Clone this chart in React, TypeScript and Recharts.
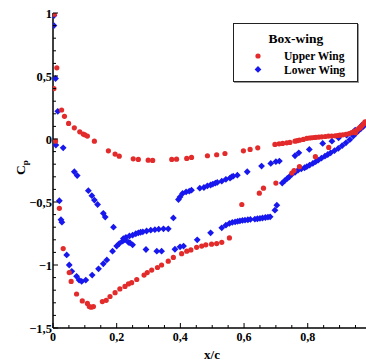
import { ScatterChart, Scatter, XAxis, YAxis, Legend } from "recharts";

// Cp distributions, [x/c, Cp]
const upperWingTop: [number, number][] = [
  [0.004, 0.99], [0.012, 0.565], [0.003, 0.4], [0.027, 0.23], [0.036, 0.18], [0.049, 0.124],
  [0.067, 0.089], [0.084, 0.057], [0.095, 0.039], [0.1, 0.033], [0.108, 0.023], [0.13, -0.017],
  [0.174, -0.094], [0.195, -0.12], [0.208, -0.136], [0.252, -0.157], [0.268, -0.162], [0.299, -0.168],
  [0.313, -0.17], [0.373, -0.162], [0.388, -0.16], [0.42, -0.154], [0.435, -0.146], [0.485, -0.133],
  [0.514, -0.125], [0.54, -0.115], [0.598, -0.094], [0.619, -0.083], [0.643, -0.07], [0.697, -0.043],
  [0.71, -0.038], [0.721, -0.035], [0.734, -0.03], [0.744, -0.027], [0.76, -0.017], [0.767, -0.013],
  [0.774, -0.009], [0.786, -0.003], [0.797, 0.005], [0.805, 0.008], [0.812, 0.01], [0.82, 0.012],
  [0.826, 0.013], [0.835, 0.015], [0.844, 0.017], [0.855, 0.02], [0.865, 0.023], [0.875, 0.024],
  [0.886, 0.025], [0.894, 0.027], [0.901, 0.03], [0.91, 0.033], [0.92, 0.037], [0.93, 0.043],
  [0.938, 0.05], [0.947, 0.06], [0.954, 0.07], [0.96, 0.082], [0.964, 0.092], [0.97, 0.105],
  [0.975, 0.118], [0.98, 0.137],
];

const upperWingBottom: [number, number][] = [
  [0.008, -0.017], [0.02, -0.55], [0.032, -0.87], [0.051, -1.06], [0.057, -1.13], [0.074, -1.23],
  [0.092, -1.285], [0.108, -1.305], [0.114, -1.33], [0.12, -1.335], [0.127, -1.33], [0.155, -1.29],
  [0.167, -1.28], [0.179, -1.25], [0.195, -1.22], [0.21, -1.19], [0.226, -1.17], [0.237, -1.15],
  [0.247, -1.14], [0.263, -1.115], [0.286, -1.08], [0.296, -1.06], [0.31, -1.04], [0.328, -1.02],
  [0.341, -1.0], [0.362, -0.97], [0.378, -0.94], [0.404, -0.91], [0.42, -0.89], [0.433, -0.88],
  [0.451, -0.86], [0.467, -0.85], [0.48, -0.84], [0.498, -0.835], [0.514, -0.83], [0.53, -0.82],
  [0.554, -0.785], [0.593, -0.52], [0.648, -0.43], [0.661, -0.39], [0.7, -0.35], [0.75, -0.27],
  [0.757, -0.25], [0.774, -0.22], [0.824, -0.14], [0.866, -0.067], [0.95, 0.05], [0.965, 0.09],
  [0.975, 0.12],
];

const lowerWingTop: [number, number][] = [
  [0.003, 0.98], [0.003, 0.9], [0.008, 0.48], [0.015, 0.22], [0.009, -0.048], [0.032, -0.07],
  [0.067, -0.26], [0.076, -0.29], [0.111, -0.41], [0.122, -0.45], [0.13, -0.485], [0.14, -0.52],
  [0.158, -0.59], [0.164, -0.62], [0.19, -0.7], [0.221, -0.79], [0.229, -0.78], [0.24, -0.77],
  [0.25, -0.763], [0.26, -0.752], [0.268, -0.745], [0.275, -0.74], [0.282, -0.737], [0.294, -0.73],
  [0.307, -0.724], [0.32, -0.72], [0.332, -0.716], [0.347, -0.713], [0.362, -0.713], [0.378, -0.626],
  [0.394, -0.48], [0.399, -0.46], [0.407, -0.432], [0.418, -0.42], [0.428, -0.414], [0.435, -0.406],
  [0.461, -0.39], [0.474, -0.385], [0.485, -0.372], [0.495, -0.365], [0.502, -0.358], [0.51, -0.35],
  [0.516, -0.345], [0.53, -0.335], [0.543, -0.32], [0.556, -0.31], [0.561, -0.3], [0.566, -0.295],
  [0.579, -0.287], [0.61, -0.26], [0.655, -0.215], [0.684, -0.194], [0.7, -0.18], [0.711, -0.175],
  [0.76, -0.133], [0.772, -0.11], [0.805, -0.083], [0.847, -0.035], [0.876, -0.017], [0.897, 0.01],
  [0.922, 0.03], [0.949, 0.071], [0.97, 0.11],
];

const lowerWingBottom: [number, number][] = [
  [0.02, -0.49], [0.025, -0.64], [0.028, -0.66], [0.043, -0.92], [0.051, -1.0], [0.059, -1.05],
  [0.074, -1.09], [0.082, -1.12], [0.09, -1.13], [0.103, -1.12], [0.123, -1.08], [0.143, -1.03],
  [0.158, -0.99], [0.169, -0.96], [0.187, -0.89], [0.2, -0.85], [0.208, -0.83], [0.219, -0.81],
  [0.226, -0.8], [0.237, -0.82], [0.242, -0.825], [0.25, -0.84], [0.292, -0.877], [0.326, -0.89],
  [0.341, -0.89], [0.383, -0.875], [0.399, -0.856], [0.41, -0.85], [0.453, -0.8], [0.495, -0.745],
  [0.53, -0.705], [0.543, -0.684], [0.554, -0.67], [0.563, -0.662], [0.572, -0.658], [0.58, -0.653],
  [0.587, -0.65], [0.595, -0.646], [0.603, -0.644], [0.612, -0.641], [0.62, -0.638], [0.634, -0.636],
  [0.642, -0.633], [0.65, -0.63], [0.658, -0.627], [0.667, -0.623], [0.675, -0.62], [0.682, -0.618],
  [0.697, -0.565], [0.703, -0.525], [0.72, -0.35], [0.728, -0.33], [0.736, -0.313], [0.742, -0.3],
  [0.75, -0.28], [0.76, -0.265], [0.77, -0.247], [0.78, -0.237], [0.79, -0.228], [0.797, -0.22],
  [0.806, -0.207], [0.816, -0.194], [0.825, -0.18], [0.833, -0.168], [0.843, -0.152], [0.854, -0.136],
  [0.863, -0.123], [0.872, -0.11], [0.884, -0.093], [0.896, -0.075], [0.908, -0.053], [0.92, -0.03],
  [0.932, -0.005], [0.943, 0.023], [0.951, 0.045], [0.959, 0.065], [0.967, 0.083], [0.975, 0.1],
];

const xTicks = [0, 0.05, 0.1, 0.15, 0.2, 0.25, 0.3, 0.35, 0.4, 0.45, 0.5, 0.55, 0.6, 0.65, 0.7, 0.75, 0.8, 0.85, 0.9, 0.95];
const yTicks = [-1.5, -1.4, -1.3, -1.2, -1.1, -1, -0.9, -0.8, -0.7, -0.6, -0.5, -0.4, -0.3, -0.2, -0.1, 0,
  0.1, 0.2, 0.3, 0.4, 0.5, 0.6, 0.7, 0.8, 0.9, 1];

const legendTitle = "Box-wing";
const UPPER = "Upper Wing";
const LOWER = "Lower Wing";

const RED = "#e32b2b";
const BLUE = "#1717ee";
const FONT = "'Liberation Serif', 'Times New Roman', serif";

const toPoints = (arr: [number, number][]) => arr.map(([x, y]) => ({ x, y }));
const upperData = [...toPoints(upperWingTop), ...toPoints(upperWingBottom)];
const lowerData = [...toPoints(lowerWingTop), ...toPoints(lowerWingBottom)];

const isMultiple = (v: number, step: number) => Math.abs(v / step - Math.round(v / step)) < 1e-6;
const fmt = (v: number) => String(Math.round(v * 10) / 10).replace(".", ",").replace("-", "\u2212");

const BottomTick = (props: any) => {
  const { x, y, payload } = props;
  const major = isMultiple(payload.value, 0.2);
  return (
    <g>
      <line x1={x} x2={x} y1={y} y2={y - (major ? 5 : 3)} stroke="#000" strokeWidth={1} />
      {major && (
        <text x={x} y={y + 13} textAnchor="middle" fontFamily={FONT} fontWeight="bold" fontSize={12} fill="#000">
          {fmt(payload.value)}
        </text>
      )}
    </g>
  );
};

const TopTick = (props: any) => {
  const { x, y, payload } = props;
  const major = isMultiple(payload.value, 0.2);
  return <line x1={x} x2={x} y1={y} y2={y + (major ? 5 : 3)} stroke="#000" strokeWidth={1} />;
};

const LeftTick = (props: any) => {
  const { x, y, payload } = props;
  const major = isMultiple(payload.value, 0.5);
  return (
    <g>
      <line x1={x} x2={x + (major ? 5 : 3)} y1={y} y2={y} stroke="#000" strokeWidth={1} />
      {major && (
        <text x={x - 1} y={y + 4.5} textAnchor="end" fontFamily={FONT} fontWeight="bold" fontSize={12.5} fill="#000">
          {fmt(payload.value)}
        </text>
      )}
    </g>
  );
};

const RedDot = (p: any) => <circle cx={p.cx} cy={p.cy} r={2.6} fill={RED} />;
const BlueDiamond = (p: any) => (
  <polygon
    points={`${p.cx},${p.cy - 3.4} ${p.cx + 3.4},${p.cy} ${p.cx},${p.cy + 3.4} ${p.cx - 3.4},${p.cy}`}
    fill={BLUE}
  />
);

const LegendBox = () => (
  <div
    style={{
      width: 125,
      height: 59,
      boxSizing: "border-box",
      border: "1px solid #222",
      background: "#fff",
      boxShadow: "1px 1px 0 #999",
    }}
  >
    <svg width={123} height={57}>
      <text x={62} y={19} textAnchor="middle" fontFamily={FONT} fontWeight="bold" fontSize={13.5}>
        {legendTitle}
      </text>
      <circle cx={24} cy={32} r={2.6} fill={RED} />
      <text x={50} y={36} fontFamily={FONT} fontWeight="bold" fontSize={11.5}>
        {UPPER}
      </text>
      <polygon points="24,42 27.4,45.4 24,48.8 20.6,45.4" fill={BLUE} />
      <text x={50} y={49.5} fontFamily={FONT} fontWeight="bold" fontSize={11.5}>
        {LOWER}
      </text>
    </svg>
  </div>
);

export default function App() {
  return (
    <div style={{ position: "absolute", left: 0, top: 0 }}>
      <ScatterChart width={366} height={361} margin={{ top: 13, right: 0, bottom: 0, left: 0 }}>
        <XAxis
          type="number"
          dataKey="x"
          domain={[0, 0.983]}
          allowDataOverflow
          ticks={xTicks}
          interval={0}
          tick={BottomTick}
          tickLine={false}
          tickSize={0}
          tickMargin={0}
          height={33}
          axisLine={{ stroke: "#000", strokeWidth: 1.5 }}
          label={{
            content: (props: any) => {
              const vb = props.viewBox;
              return (
                <text x={vb.x + 159} y={vb.y + 31} textAnchor="middle" fontFamily={FONT} fontWeight="bold" fontSize={13}>
                  x/c
                </text>
              );
            },
          }}
        />
        <XAxis
          xAxisId="top"
          orientation="top"
          type="number"
          dataKey="x"
          domain={[0, 0.983]}
          allowDataOverflow
          ticks={xTicks}
          interval={0}
          tick={TopTick}
          tickLine={false}
          tickSize={0}
          tickMargin={0}
          height={0}
          axisLine={{ stroke: "#000", strokeWidth: 1.5 }}
        />
        <YAxis
          type="number"
          dataKey="y"
          domain={[-1.5, 1]}
          allowDataOverflow
          ticks={yTicks}
          interval={0}
          tick={LeftTick}
          tickLine={false}
          tickSize={0}
          tickMargin={0}
          width={53}
          axisLine={{ stroke: "#000", strokeWidth: 1.5 }}
          label={{
            content: (props: any) => {
              const vb = props.viewBox;
              const cx = vb.x + 25;
              const cy = vb.y + vb.height / 2 - 3;
              return (
                <text
                  x={cx}
                  y={cy}
                  textAnchor="middle"
                  transform={`rotate(-90, ${cx}, ${cy})`}
                  fontFamily={FONT}
                  fontWeight="bold"
                  fontSize={13.5}
                >
                  C<tspan dy={3} fontSize={9}>p</tspan>
                </text>
              );
            },
          }}
        />
        <Legend
          layout="vertical"
          align="center"
          verticalAlign="middle"
          wrapperStyle={{ left: 233, top: 23, width: 125, height: 59 }}
          content={() => <LegendBox />}
        />
        <Scatter name={LOWER} data={lowerData} fill={BLUE} shape={BlueDiamond} isAnimationActive={false} />
        <Scatter name={UPPER} data={upperData} fill={RED} shape={RedDot} isAnimationActive={false} />
      </ScatterChart>
    </div>
  );
}
